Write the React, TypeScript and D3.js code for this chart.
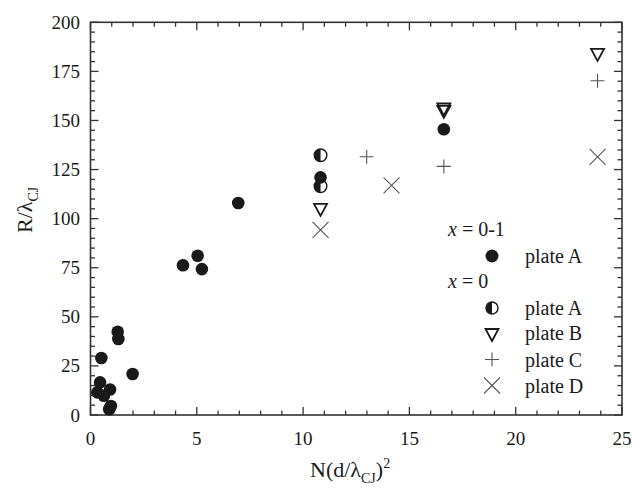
import React from "react";
import * as d3 from "d3";

// x = 0-1, plate A (filled circles)
const a01X = [0.32, 0.45, 0.51, 0.63, 0.92, 0.96, 0.88, 1.28, 1.31, 1.98, 4.35, 5.04, 5.24, 6.95, 10.82, 16.62];
const a01Y = [11.5, 16.6, 29, 9.8, 13, 4.6, 2.9, 42.4, 38.7, 20.9, 76.3, 81.1, 74.3, 108, 121, 145.5];
// x = 0, plate A (half-filled circles)
const a0X = [10.82, 10.82];
const a0Y = [132.3, 116.5];
// x = 0, plate B (down triangles)
const bX = [10.82, 16.62, 16.62, 23.85];
const bY = [105.5, 156.6, 155.4, 184.4];
// x = 0, plate C (plus)
const cX = [12.99, 16.62, 23.85];
const cY = [131.5, 126.6, 170.2];
// x = 0, plate D (cross)
const dX = [10.82, 14.16, 23.85];
const dY = [94.3, 117, 131.5];

const xTicks = [0, 5, 10, 15, 20, 25];
const yTicks = [0, 25, 50, 75, 100, 125, 150, 175, 200];

const W = 633, H = 488;
const L = 90.5, R = 622, T = 22.3, B = 415;
const FONT = "Liberation Serif, Times New Roman, Times, serif";
const INK = "#1a1a1a";

function HalfCircle({ cx, cy, r }: { cx: number; cy: number; r: number }) {
  return (
    <g>
      <circle cx={cx} cy={cy} r={r} fill="#fff" stroke={INK} strokeWidth={1.4} />
      <path d={`M${cx},${cy - r} A${r},${r} 0 0 0 ${cx},${cy + r} Z`} fill={INK} />
    </g>
  );
}
function Tri({ cx, cy }: { cx: number; cy: number }) {
  const w = 6.5, h = 12;
  return (
    <path
      d={`M${cx - w},${cy - h / 3} L${cx + w},${cy - h / 3} L${cx},${cy + (2 * h) / 3} Z`}
      fill="none"
      stroke={INK}
      strokeWidth={1.8}
      strokeLinejoin="miter"
    />
  );
}
function Plus({ cx, cy }: { cx: number; cy: number }) {
  const s = 7;
  return (
    <path d={`M${cx - s},${cy} H${cx + s} M${cx},${cy - s} V${cy + s}`} stroke="#555" strokeWidth={1.1} />
  );
}
function Cross({ cx, cy }: { cx: number; cy: number }) {
  const s = 8;
  return (
    <path
      d={`M${cx - s},${cy - s} L${cx + s},${cy + s} M${cx - s},${cy + s} L${cx + s},${cy - s}`}
      stroke="#555"
      strokeWidth={1.1}
    />
  );
}

export default function App() {
  const x = d3.scaleLinear().domain([0, 25]).range([L, R]);
  const y = d3.scaleLinear().domain([0, 200]).range([B, T]);
  const xMinor = d3.range(0, 25.01, 1);
  const yMinor = d3.range(0, 200.01, 5);

  const ticks: React.ReactNode[] = [];
  xMinor.forEach((v, i) => {
    const major = v % 5 === 0;
    const len = major ? 8 : 4.5;
    const px = x(v);
    ticks.push(<line key={"xb" + i} x1={px} x2={px} y1={B} y2={B - len} />);
    ticks.push(<line key={"xt" + i} x1={px} x2={px} y1={T} y2={T + len} />);
  });
  yMinor.forEach((v, i) => {
    const major = v % 25 === 0;
    const len = major ? 8 : 4.5;
    const py = y(v);
    ticks.push(<line key={"yl" + i} x1={L} x2={L + len} y1={py} y2={py} />);
    ticks.push(<line key={"yr" + i} x1={R} x2={R - len} y1={py} y2={py} />);
  });

  const legX = 492, legTX = 525;
  const rows = [256, 308, 333, 359.5, 385.5];
  const ts = { fontFamily: FONT } as React.CSSProperties;

  return (
    <svg width={W} height={H} style={{ position: "absolute", left: 0, top: 0, background: "#fff", fontFamily: FONT }}>
      <rect x={0} y={0} width={W} height={H} fill="#fff" />
      <g stroke="#333" strokeWidth={1.3}>{ticks}</g>
      <rect x={L} y={T} width={R - L} height={B - T} fill="none" stroke="#333" strokeWidth={1.6} />

      {xTicks.map((v) => (
        <text key={"xl" + v} style={ts} x={x(v)} y={445} fontSize={19} textAnchor="middle" fill={INK}>
          {v}
        </text>
      ))}
      {yTicks.map((v) => (
        <text key={"yl" + v} style={ts} x={80} y={y(v) + 6.5} fontSize={19} textAnchor="end" fill={INK}>
          {v}
        </text>
      ))}

      <text style={ts} x={310} y={477} fontSize={22} fill={INK}>
        N(d/λ<tspan fontSize={14} dy={6}>CJ</tspan>
        <tspan dy={-6}>)</tspan>
        <tspan fontSize={14} dy={-9}>2</tspan>
      </text>
      <text style={ts} transform={`translate(32,233) rotate(-90)`} fontSize={22} fill={INK}>
        R/λ<tspan fontSize={14} dy={6}>CJ</tspan>
      </text>

      {/* data */}
      {a0X.map((v, i) => (
        <HalfCircle key={"a0" + i} cx={x(v)} cy={y(a0Y[i])} r={6.3} />
      ))}
      {a01X.map((v, i) => (
        <circle key={"a01" + i} cx={x(v)} cy={y(a01Y[i])} r={6.3} fill={INK} />
      ))}
      {bX.map((v, i) => (
        <Tri key={"b" + i} cx={x(v)} cy={y(bY[i])} />
      ))}
      {cX.map((v, i) => (
        <Plus key={"c" + i} cx={x(v)} cy={y(cY[i])} />
      ))}
      {dX.map((v, i) => (
        <Cross key={"d" + i} cx={x(v)} cy={y(dY[i])} />
      ))}

      {/* legend */}
      <text style={ts} x={448} y={236} fontSize={20} fill={INK}>
        <tspan fontStyle="italic">x</tspan> = 0-1
      </text>
      <circle cx={legX} cy={rows[0]} r={6.5} fill={INK} />
      <text style={ts} x={legTX} y={rows[0] + 7} fontSize={20} fill={INK}>plate A</text>
      <text style={ts} x={448} y={288} fontSize={20} fill={INK}>
        <tspan fontStyle="italic">x</tspan> = 0
      </text>
      <HalfCircle cx={legX} cy={rows[1]} r={6} />
      <text style={ts} x={legTX} y={rows[1] + 7} fontSize={20} fill={INK}>plate A</text>
      <Tri cx={legX} cy={rows[2]} />
      <text style={ts} x={legTX} y={rows[2] + 7} fontSize={20} fill={INK}>plate B</text>
      <Plus cx={legX} cy={rows[3]} />
      <text style={ts} x={legTX} y={rows[3] + 7} fontSize={20} fill={INK}>plate C</text>
      <Cross cx={legX} cy={rows[4]} />
      <text style={ts} x={legTX} y={rows[4] + 7} fontSize={20} fill={INK}>plate D</text>
    </svg>
  );
}
